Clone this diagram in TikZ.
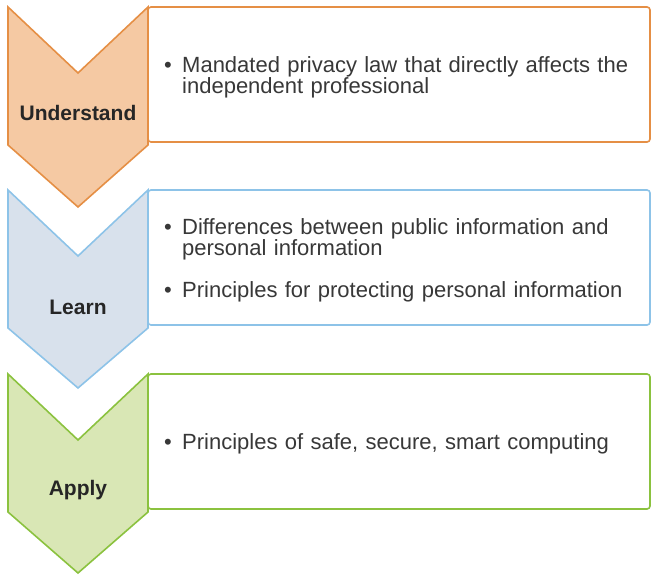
\documentclass[tikz,border=0pt]{standalone}
\usepackage{fontspec}
\setmainfont{Liberation Sans}
\usetikzlibrary{positioning}

\definecolor{UnderstandLine}{HTML}{E58F45}
\definecolor{UnderstandFill}{HTML}{F5C9A3}
\definecolor{LearnLine}{HTML}{8DC3E8}
\definecolor{LearnFill}{HTML}{D8E1EC}
\definecolor{ApplyLine}{HTML}{8BC23F}
\definecolor{ApplyFill}{HTML}{D9E7B5}

\newcommand{\bulletitem}[1]{\par\hangindent=18pt\hangafter=1\noindent
  \makebox[18pt][l]{\textbullet}#1\par}

\begin{document}
\begin{tikzpicture}[x=1pt, y=-1pt]
\tikzset{% boxes, chevrons and texts
  stagebox/.style={rectangle, draw, fill=white, line width=1.6pt, rounded corners=3pt,
    minimum width=502pt, minimum height=135pt, inner sep=0pt, outer sep=0pt, anchor=north west},
  chevron/.style={draw=#1Line, fill=#1Fill, line width=1.6pt, line join=miter},
  stagelabel/.style={font=\fontsize{21}{24}\selectfont\bfseries, text=black!85, inner sep=0pt},
  itemtext/.style={text width=470pt, align=left, inner sep=0pt,
    font=\fontsize{22}{21}\selectfont, text=black!78},
}
\useasboundingbox (0,0) rectangle (652,583);

\node[stagebox, draw=UnderstandLine] (UnderstandBox) at (148,7) {};
\node[stagebox, draw=LearnLine, below=48pt of UnderstandBox.south west, anchor=north west]
  (LearnBox) {};
\node[stagebox, draw=ApplyLine, below=49pt of LearnBox.south west, anchor=north west]
  (ApplyBox) {};

\draw[chevron=Understand] (UnderstandBox.north west) -- ++(-70,66) -- ++(-70,-66)
  -- ++(0,138) -- ++(70,62) -- ++(70,-62) -- cycle;
\draw[chevron=Learn] (LearnBox.north west) -- ++(-70,66) -- ++(-70,-66)
  -- ++(0,138) -- ++(70,60) -- ++(70,-60) -- cycle;
\draw[chevron=Apply] (ApplyBox.north west) -- ++(-70,66) -- ++(-70,-66)
  -- ++(0,138) -- ++(70,61) -- ++(70,-61) -- cycle;

\node[stagelabel, below left=46pt and 70pt of UnderstandBox.west, anchor=base]
  (UnderstandLabel) {Understand};
\node[stagelabel, below left=57pt and 70pt of LearnBox.west, anchor=base]
  (LearnLabel) {Learn};
\node[stagelabel, below left=54pt and 70pt of ApplyBox.west, anchor=base]
  (ApplyLabel) {Apply};

\node[itemtext, right=16pt of UnderstandBox.west] (UnderstandItems)
  {\bulletitem{Mandated privacy law that directly affects the\newline independent professional}};
\node[itemtext, right=16pt of LearnBox.west] (LearnItems)
  {\bulletitem{Differences between public information and\newline personal information}
   \vspace{21pt}
   \bulletitem{Principles for protecting personal information}};
\node[itemtext, right=16pt of ApplyBox.west] (ApplyItems)
  {\bulletitem{Principles of safe, secure, smart computing}};
\end{tikzpicture}
\end{document}
